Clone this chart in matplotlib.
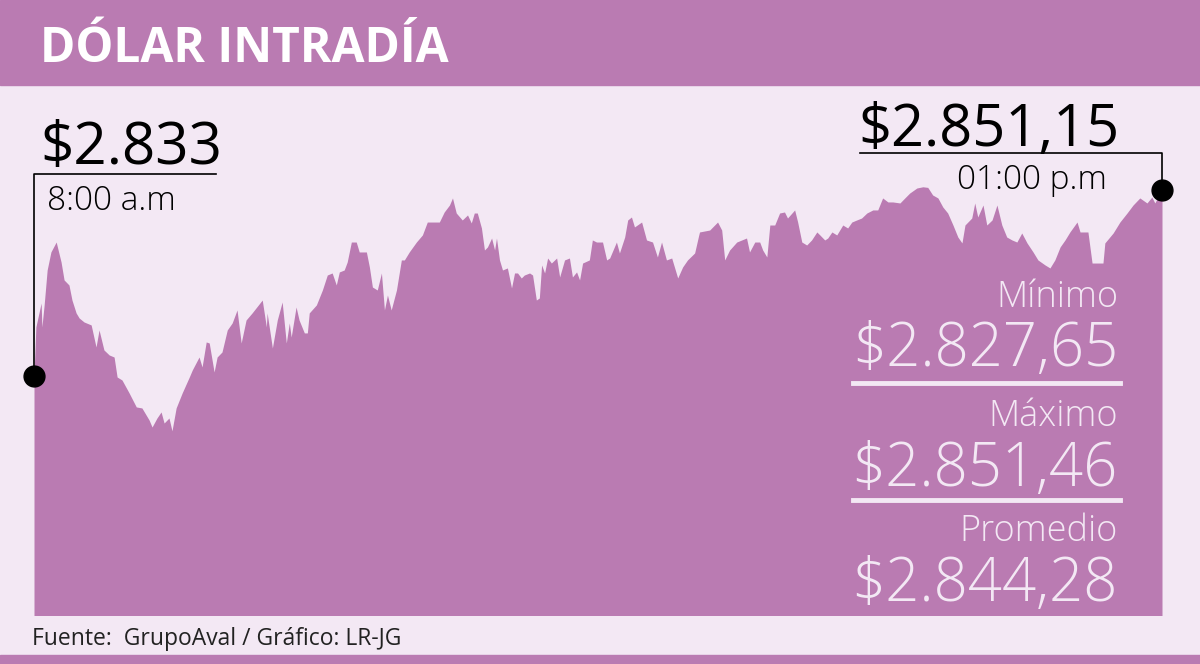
import matplotlib
matplotlib.use('Agg')
import matplotlib.pyplot as plt
from matplotlib.patches import Rectangle
from matplotlib.lines import Line2D

# intraday dollar price, minutes after 8:00 a.m
minutes = [0, 0.5, 1.9, 2.1, 2.7, 3.5, 4.5, 5.9, 7.2, 8.0, 9.3, 10.1, 11.2, 12.0, 13.3, 15.2,
           16.5, 17.3, 18.6, 20.0, 21.3, 22.1, 23.4, 25.3, 27.2, 28.7, 30.6, 31.4, 32.7, 33.8,
           34.6, 35.9, 36.7, 37.8, 39.4, 41.3, 42.1, 43.9, 44.7, 45.8, 46.6, 47.9, 48.7, 50.0,
           51.4, 52.7, 54.0, 55.1, 56.4, 58.0, 60.7, 61.8, 62.0, 63.4, 64.7, 66.0, 67.1, 67.9,
           68.4, 69.7, 70.5, 71.9, 72.7, 73.2, 75.1, 76.7, 78.0, 79.3, 80.4, 81.2, 82.5, 83.3,
           84.4, 85.7, 86.5, 88.4, 89.2, 90.0, 91.3, 92.4, 93.2, 94.0, 95.0, 96.4, 97.7, 98.5,
           99.8, 101.7, 103.3, 104.6, 106.0, 107.8, 109.1, 110.5, 111.3, 112.3, 113.9, 115.3,
           116.3, 117.1, 117.9, 119.0, 119.8, 120.6, 121.7, 122.5, 123.0, 123.8, 124.6, 125.9,
           127.0, 127.8, 128.6, 129.6, 130.4, 131.8, 132.6, 133.6, 134.4, 135.0, 135.8, 136.6,
           137.6, 139.0, 139.8, 141.1, 142.4, 143.2, 144.3, 145.1, 145.9, 147.7, 148.5, 149.6,
           151.2, 152.3, 153.1, 154.9, 155.7, 157.1, 157.9, 158.9, 159.7, 161.6, 162.9, 164.5,
           165.8, 166.9, 168.2, 169.6, 171.2, 172.5, 173.8, 175.7, 176.8, 177.0, 179.7, 181.8,
           182.9, 183.7, 185.0, 186.9, 189.5, 190.3, 191.7, 193.0, 193.8, 194.9, 195.7, 197.0,
           198.3, 199.6, 200.4, 202.3, 203.1, 204.2, 205.5, 206.8, 208.2, 209.0, 210.3, 211.1,
           212.2, 213.5, 215.1, 216.4, 217.5, 218.8, 220.1, 221.5, 223.1, 224.4, 225.7, 227.1,
           228.4, 230.3, 231.6, 232.9, 234.8, 236.4, 237.7, 239.0, 240.4, 241.7, 243.0, 244.4,
           245.7, 246.8, 247.6, 249.4, 250.2, 251.0, 252.4, 253.4, 254.8, 256.1, 257.4, 258.7,
           260.1, 261.4, 262.7, 264.1, 265.7, 267.0, 268.9, 270.2, 271.5, 272.9, 274.2, 275.5,
           277.4, 278.2, 280.3, 281.4, 284.3, 284.8, 287.0, 288.8, 290.7, 292.3, 294.1, 296.0,
           297.3, 298.1, 298.9, 300]
precio = [2833.00, 2837.78, 2840.12, 2837.78, 2839.93, 2843.34, 2845.10, 2846.07, 2844.12,
          2842.37, 2841.88, 2840.41, 2839.15, 2838.66, 2838.27, 2837.98, 2835.83, 2837.49,
          2835.54, 2835.05, 2834.85, 2832.90, 2832.61, 2831.34, 2829.98, 2829.88, 2828.71,
          2828.02, 2828.90, 2829.49, 2828.41, 2828.90, 2827.65, 2829.88, 2831.34, 2832.90,
          2833.59, 2834.85, 2833.88, 2836.32, 2836.22, 2833.39, 2834.85, 2835.34, 2837.49,
          2838.17, 2839.44, 2836.22, 2838.46, 2839.15, 2840.41, 2837.78, 2839.15, 2835.73,
          2838.46, 2840.22, 2836.22, 2838.17, 2836.80, 2839.73, 2838.46, 2837.20, 2837.20,
          2839.15, 2839.93, 2841.39, 2842.85, 2843.05, 2841.88, 2843.15, 2843.34, 2844.12,
          2846.07, 2846.07, 2845.10, 2845.10, 2843.63, 2841.68, 2841.39, 2843.05, 2839.44,
          2840.90, 2839.44, 2841.39, 2844.32, 2844.32, 2845.10, 2846.07, 2846.76, 2848.02,
          2848.02, 2848.02, 2849.00, 2849.68, 2850.37, 2848.90, 2848.22, 2848.71, 2847.93,
          2848.90, 2848.90, 2847.44, 2845.29, 2845.59, 2846.46, 2845.29, 2846.46, 2844.32,
          2843.34, 2843.54, 2841.59, 2843.05, 2843.05, 2842.56, 2842.85, 2843.05, 2842.85,
          2840.41, 2840.61, 2843.83, 2843.05, 2844.51, 2844.02, 2844.51, 2842.66, 2844.32,
          2844.51, 2842.66, 2843.15, 2842.37, 2844.02, 2844.32, 2846.27, 2846.07, 2846.07,
          2844.32, 2844.51, 2846.07, 2845.00, 2846.56, 2848.22, 2848.51, 2847.54, 2848.02,
          2846.27, 2846.07, 2844.61, 2846.07, 2844.32, 2844.51, 2842.56, 2843.63, 2844.32,
          2845.00, 2846.76, 2847.05, 2847.24, 2848.02, 2847.24, 2844.32, 2845.29, 2846.07,
          2846.46, 2845.10, 2846.07, 2846.07, 2845.29, 2844.61, 2847.73, 2847.73, 2848.90,
          2849.00, 2848.41, 2849.20, 2848.02, 2846.07, 2845.78, 2846.27, 2847.05, 2846.76,
          2846.27, 2846.46, 2847.05, 2846.76, 2847.73, 2847.44, 2848.02, 2848.22, 2848.41,
          2848.90, 2849.20, 2849.20, 2850.37, 2849.98, 2849.98, 2849.88, 2850.37, 2850.85,
          2851.34, 2851.46, 2851.40, 2850.66, 2850.37, 2849.49, 2848.90, 2847.73, 2846.56,
          2845.98, 2847.73, 2848.41, 2849.88, 2848.51, 2849.68, 2847.73, 2848.22, 2849.68,
          2847.73, 2846.56, 2846.27, 2846.07, 2846.95, 2845.98, 2845.10, 2844.32, 2843.83,
          2843.54, 2844.32, 2845.59, 2846.27, 2847.05, 2848.02, 2847.05, 2847.05, 2844.02,
          2844.02, 2845.98, 2846.95, 2848.02, 2848.90, 2849.68, 2850.37, 2849.88, 2850.46,
          2849.88, 2850.46, 2851.15]

titulo = 'DÓLAR INTRADÍA'
apertura = '$2.833'
hora_apertura = '8:00 a.m'
cierre = '$2.851,15'
hora_cierre = '01:00 p.m'
resumen_nombres = ['Mínimo', 'Máximo', 'Promedio']
resumen_valores = ['$2.827,65', '$2.851,46', '$2.844,28']
fuente = 'Fuente:  GrupoAval / Gráfico: LR-JG'

morado = '#BA7BB2'
lila = '#F3E8F4'
FONT = ['Open Sans', 'DejaVu Sans']
plt.rcParams['font.family'] = FONT

W, H = 1200, 664
fig = plt.figure(figsize=(W / 100, H / 100), dpi=100, facecolor=lila)


def fx(px):
    return px / W


def fy(py):
    # py measured from top of image
    return 1 - py / H


# bands
fig.patches.append(Rectangle((0, fy(85)), 1, 85 / H, transform=fig.transFigure,
                             color=morado, zorder=0))
fig.patches.append(Rectangle((0, 0), 1, fy(655), transform=fig.transFigure,
                             color=morado, zorder=0))
fig.text(fx(40), fy(62), titulo, color='white', fontsize=34.5, fontweight='bold',
         va='baseline', ha='left')

# chart area
ax = fig.add_axes([fx(34), fy(615), fx(1162 - 34), (615 - 85) / H])
ax.fill_between(minutes, precio, 2800, color=morado, lw=0)
ax.set_xlim(0, 300)
ax.set_ylim(2809.68, 2861.39)
ax.axis('off')

ax.plot([minutes[0], minutes[-1]], [precio[0], precio[-1]], 'o', color='black',
        ms=15, clip_on=False, zorder=5)

fig.canvas.draw()
x0, y0 = ax.transData.transform((minutes[0], precio[0]))
x1, y1 = ax.transData.transform((minutes[-1], precio[-1]))
# converted to top-based pixels
y0t = H - y0
y1t = H - y1

fig.lines.append(Line2D([fx(x0), fx(x0), fx(216)], [fy(y0t), fy(174), fy(174)],
                        transform=fig.transFigure, color='black', lw=1.2))
fig.lines.append(Line2D([fx(860), fx(x1), fx(x1)], [fy(153), fy(153), fy(y1t)],
                        transform=fig.transFigure, color='black', lw=1.2))

fig.text(fx(40), fy(164), apertura, fontsize=42, color='black', va='baseline')
fig.text(fx(47), fy(210), hora_apertura, fontsize=24, color='black', va='baseline',
         fontweight='light')
fig.text(fx(858), fy(146), cierre, fontsize=41.5, color='black', va='baseline')
fig.text(fx(1107), fy(189), hora_cierre, fontsize=24, color='black', va='baseline',
         ha='right', fontweight='light')

# summary block
bases = [(307, 366), (426, 486), (541, 601)]
for nombre, valor, (bn, bv) in zip(resumen_nombres, resumen_valores, bases):
    fig.text(fx(1118), fy(bn), nombre, fontsize=26, color=lila, ha='right',
             va='baseline', fontweight='light')
    fig.text(fx(1118), fy(bv), valor, fontsize=43, color=lila, ha='right',
             va='baseline', fontweight='light')
for yl in [383, 500]:
    fig.lines.append(Line2D([fx(853), fx(1120)], [fy(yl), fy(yl)],
                            transform=fig.transFigure, color=lila, lw=3.5))

fig.text(fx(32), fy(645), fuente, fontsize=16.5, color='#222222', va='baseline')

fig.savefig('out.png', dpi=100, facecolor=lila)
